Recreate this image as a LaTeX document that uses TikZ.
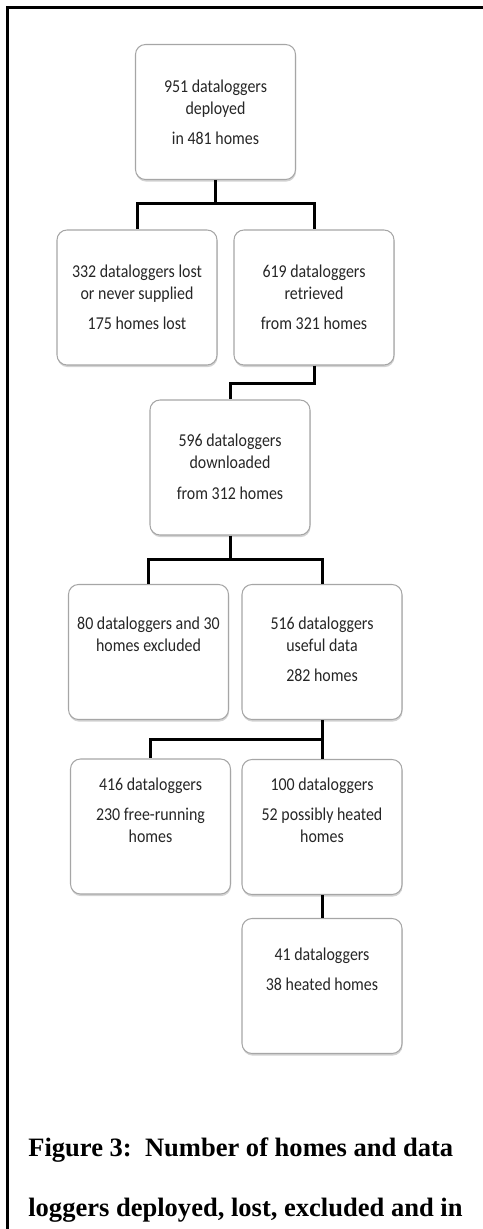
\documentclass[tikz,border=0pt]{standalone}
\usepackage{fontspec}
\usepackage{tikz}
\usetikzlibrary{shadows}
\newfontfamily\calibri[FakeStretch=0.88]{Carlito}
\newfontfamily\timesfont{Liberation Serif}
\definecolor{gris}{HTML}{A6A6A6}
\definecolor{texte}{HTML}{262626}
\newcommand{\etape}[2][0.96cm]{\parbox[c][2.7cm][t]{3.2cm}{\centering\rule{0pt}{#1}#2}}
\tikzset{
  boite/.style={draw=gris,line width=0.6pt,rounded corners=0.2cm,fill=white,
                inner sep=0pt,minimum width=3.2cm,minimum height=2.7cm,text=texte,
                font=\calibri\fontsize{10.3pt}{0.44cm}\selectfont,
                drop shadow={shadow xshift=0.3pt,shadow yshift=-1.2pt,opacity=0.35}},
  lien/.style={line width=0.06cm,black},
}

\begin{document}
\begin{tikzpicture}[x=0.2mm,y=-0.2mm]
  \useasboundingbox (0,0) rectangle (483,1229);
  \draw[line width=0.06cm] (7,1229) -- (7,8) -- (483,8);
  \node[boite] (top) at (215.5,112) {\etape{951 dataloggers\\deployed\\[0.16cm]in 481 homes}};
  \node[boite] (lost) at (137,297.5) {\etape{332 dataloggers lost\\or never supplied\\[0.16cm]175 homes lost}};
  \node[boite] (retr) at (314,297.5) {\etape{619 dataloggers\\retrieved\\[0.16cm]from 321 homes}};
  \node[boite] (down) at (230,467.5) {\etape[0.94cm]{596 dataloggers\\downloaded\\[0.16cm]from 312 homes}};
  \node[boite] (excl) at (148.5,652) {\etape[0.9cm]{80 dataloggers and 30\\homes excluded}};
  \node[boite] (useful) at (322,652) {\etape[0.9cm]{516 dataloggers\\useful data\\[0.16cm]282 homes}};
  \node[boite] (free) at (150.5,826.5) {\etape[0.62cm]{416 dataloggers\\[0.16cm]230 free-running\\homes}};
  \node[boite] (poss) at (322,827) {\etape[0.62cm]{100 dataloggers\\[0.16cm]52 possibly heated\\homes}};
  \node[boite] (heat) at (322,986) {\etape[0.84cm]{41 dataloggers\\[0.16cm]38 heated homes}};
  \draw[lien] (top.south) -- ++(0,23) coordinate (j1) -| (lost.north);
  \draw[lien] (j1) -| (retr.north);
  \draw[lien] (retr.south) -- ++(0,18) -| (down.north);
  \draw[lien] (down.south) -- ++(0,24) coordinate (j2) -| (excl.north);
  \draw[lien] (j2) -| (useful.north);
  \draw[lien] (useful.south) -- ++(0,19) -| (free.north);
  \draw[lien] (useful.south) -- (poss.north);
  \draw[lien] (poss.south) -- (heat.north);
  \node[font=\timesfont\bfseries\fontsize{15.1pt}{1.2cm}\selectfont,align=left,anchor=base west,inner sep=0pt]
    (legende) at (28,1216) {Figure 3:\ \ Number of homes and data\\loggers deployed, lost, excluded and in};
\end{tikzpicture}
\end{document}
